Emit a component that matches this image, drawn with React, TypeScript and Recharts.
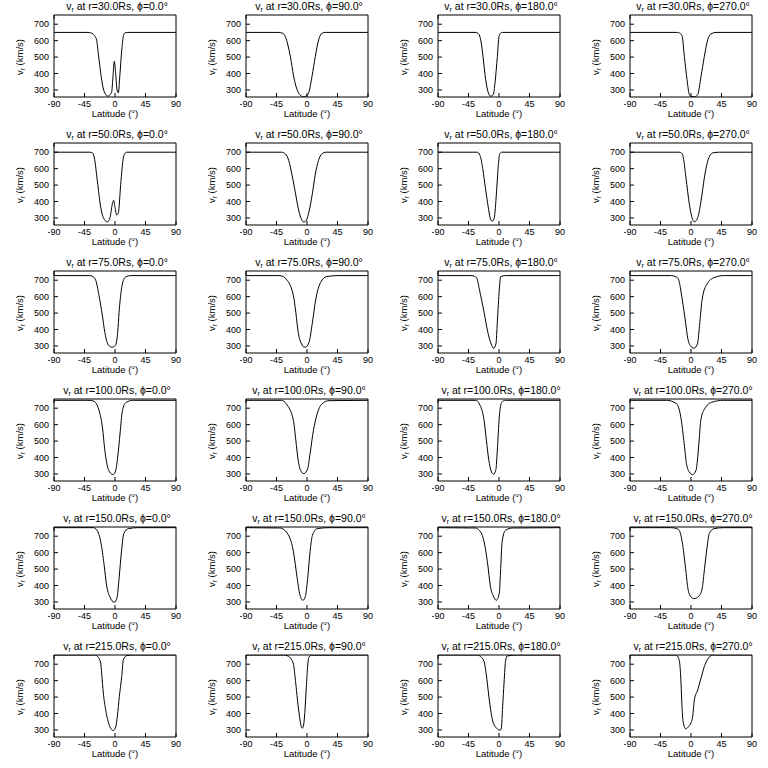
import { LineChart, Line, XAxis, YAxis } from "recharts";

type Pt = [number, number];

const radii = ["30.0", "50.0", "75.0", "100.0", "150.0", "215.0"];
const phis = ["0.0", "90.0", "180.0", "270.0"];
const latTicks = [-90, -45, 0, 45, 90];
const vTicks = [300, 400, 500, 600, 700];
const vDomain = [257, 756];

// r = 30 Rs
const r30_phi0: Pt[] = [[-90, 650], [-40, 650], [-35, 646], [-30, 630], [-27, 600], [-24, 500], [-21, 400], [-17.5, 312], [-14, 275], [-11.5, 262], [-8, 268], [-5, 285], [-3, 380], [-1, 474], [1, 400], [3, 300], [5, 282], [7, 380], [10, 544], [12.5, 630], [15, 648], [18, 650], [90, 650]];
const r30_phi90: Pt[] = [[-90, 650], [-42, 650], [-36, 645], [-32, 625], [-28, 570], [-24.6, 504], [-19.7, 383], [-14.7, 302], [-10, 268], [-5, 258], [0, 268], [2.5, 282], [7.4, 383], [12.3, 504], [17.2, 605], [22.2, 645], [27, 650], [90, 650]];
const r30_phi180: Pt[] = [[-90, 650], [-34, 650], [-30, 640], [-27, 605], [-23.6, 504], [-19.7, 363], [-15.7, 282], [-12.3, 262], [-8.3, 272], [-5.9, 343], [-2.4, 504], [0, 625], [2.5, 646], [5, 650], [90, 650]];
const r30_phi270: Pt[] = [[-90, 650], [-20, 650], [-15, 640], [-13, 625], [-9.8, 504], [-5.9, 363], [-2.4, 272], [1, 260], [5, 258], [9.9, 272], [14.8, 383], [19.7, 504], [24.6, 605], [29.5, 641], [36.9, 650], [90, 650]];

// r = 50 Rs
const r50_phi0: Pt[] = [[-90, 700], [-37, 700], [-33, 695], [-30.5, 666], [-26, 524], [-21, 363], [-17.2, 302], [-11.3, 276], [-7.4, 302], [-3.4, 395], [-2, 407], [0, 363], [2.5, 318], [5, 332], [8.4, 504], [12.3, 666], [15, 695], [17.2, 700], [90, 700]];
const r50_phi90: Pt[] = [[-90, 700], [-38, 700], [-32, 690], [-27, 650], [-22, 560], [-17, 450], [-13, 360], [-9, 300], [-5, 275], [-1, 285], [3, 340], [8, 450], [12, 560], [17, 650], [22, 690], [28, 700], [90, 700]];
const r50_phi180: Pt[] = [[-90, 700], [-32, 700], [-28, 680], [-24, 600], [-20, 480], [-16, 370], [-13, 300], [-10, 280], [-7, 300], [-5, 380], [-3, 500], [-1, 620], [1, 690], [4, 700], [90, 700]];
const r50_phi270: Pt[] = [[-90, 700], [-17.2, 700], [-13, 690], [-11.3, 666], [-7.4, 544], [-2.4, 383], [1.5, 302], [5, 276], [9.9, 302], [14.8, 403], [19.7, 544], [24.6, 645], [32, 696], [41.8, 700], [90, 700]];

// r = 75 Rs
const r75_phi0: Pt[] = [[-90, 728], [-37, 728], [-32, 720], [-29, 706], [-23.5, 605], [-18.6, 483], [-15, 383], [-11.6, 322], [-7, 295], [-4.5, 292], [0.4, 302], [4, 383], [6, 504], [9.5, 645], [13, 705], [16.5, 722], [23.5, 728], [90, 728]];
const r75_phi90: Pt[] = [[-90, 728], [-41, 728], [-35, 722], [-30.5, 706], [-20, 605], [-16.5, 504], [-13, 383], [-8, 312], [-5, 294], [-2.5, 292], [3, 322], [8, 443], [13, 585], [20, 686], [29, 722], [46, 728], [90, 728]];
const r75_phi180: Pt[] = [[-90, 728], [-40, 728], [-33, 715], [-29, 645], [-22, 504], [-16.5, 383], [-11.5, 312], [-8, 286], [-4.5, 312], [-2.5, 443], [0.5, 645], [2.5, 722], [9.5, 728], [90, 728]];
const r75_phi270: Pt[] = [[-90, 728], [-29, 728], [-22, 720], [-18.6, 706], [-13, 585], [-8, 443], [-4.6, 343], [-1, 302], [4.5, 286], [9.5, 312], [13, 443], [16.5, 585], [23.5, 676], [34, 716], [48, 728], [90, 728]];

// r = 100 Rs
const r100_phi0: Pt[] = [[-90, 748], [-40, 748], [-33, 745], [-29, 736], [-23.5, 686], [-18.6, 585], [-15, 443], [-11.6, 353], [-8, 312], [-3, 296], [0.4, 312], [4, 403], [7.4, 544], [11, 686], [16.5, 736], [27, 748], [90, 748]];
const r100_phi90: Pt[] = [[-90, 748], [-38, 748], [-30.5, 726], [-20, 625], [-16.5, 504], [-13, 383], [-9.5, 322], [-4.6, 302], [1, 332], [4.5, 423], [9.5, 565], [15, 666], [22, 726], [32.5, 746], [90, 748]];
const r100_phi180: Pt[] = [[-90, 748], [-34, 748], [-29, 726], [-22, 625], [-18.6, 504], [-15, 383], [-11.6, 318], [-8, 298], [-4.6, 326], [-2.5, 443], [0.4, 645], [4, 736], [9.5, 748], [90, 748]];
const r100_phi270: Pt[] = [[-90, 748], [-36, 748], [-22, 730], [-15, 645], [-10, 483], [-6.7, 363], [-2.5, 312], [2.5, 296], [7.4, 322], [11.6, 483], [14.4, 625], [20, 696], [30.5, 736], [48, 748], [90, 748]];

// r = 150 Rs
const r150_phi0: Pt[] = [[-90, 752], [-32, 752], [-26.6, 736], [-21, 666], [-16, 524], [-12.5, 403], [-7.7, 332], [-1, 298], [3, 326], [6, 443], [9.5, 605], [13, 716], [20, 746], [34, 752], [90, 752]];
const r150_phi90: Pt[] = [[-90, 752], [-40, 750], [-30.5, 726], [-20, 605], [-14.4, 443], [-11, 353], [-6, 310], [-2.5, 332], [1, 443], [4.5, 605], [8, 706], [15, 746], [32.5, 752], [90, 752]];
const r150_phi180: Pt[] = [[-90, 752], [-35, 750], [-29, 736], [-22, 666], [-16.5, 524], [-13, 403], [-8, 332], [-4, 310], [0.4, 353], [2.5, 504], [4.6, 666], [9.5, 736], [20, 750], [90, 752]];
const r150_phi270: Pt[] = [[-90, 752], [-30, 752], [-18.6, 742], [-13, 666], [-8, 504], [-4.6, 383], [-1, 335], [4.5, 320], [11.6, 335], [16.5, 383], [20, 504], [23.5, 625], [27, 716], [34, 746], [48, 752], [90, 752]];

// r = 215 Rs
const r215_phi0: Pt[] = [[-90, 756], [-30, 756], [-24.6, 742], [-21, 706], [-19.7, 645], [-17.2, 524], [-13.8, 423], [-10.8, 363], [-7.4, 318], [-2.4, 296], [1, 318], [3.5, 383], [6.4, 504], [9.9, 625], [12.3, 726], [17.2, 752], [27, 756], [90, 756]];
const r215_phi90: Pt[] = [[-90, 756], [-35, 756], [-28, 750], [-24, 735], [-20, 700], [-17, 600], [-14, 480], [-11, 380], [-9, 330], [-7, 310], [-5, 330], [-3, 420], [-1, 560], [1, 690], [3, 745], [8, 755], [90, 756]];
const r215_phi180: Pt[] = [[-90, 756], [-32, 756], [-27, 746], [-22, 716], [-19.7, 666], [-17.2, 585], [-14.7, 494], [-12.3, 423], [-9.8, 363], [-5.9, 322], [-2.4, 306], [1.5, 298], [3.5, 312], [5.4, 443], [7.4, 585], [9.9, 726], [12.3, 750], [27, 756], [90, 756]];
const r215_phi270: Pt[] = [[-90, 756], [-22, 756], [-18.2, 736], [-16.2, 686], [-14.7, 585], [-13.3, 443], [-11.3, 342], [-7.4, 306], [-3.4, 322], [0, 343], [2.5, 383], [5, 484], [9.9, 544], [14.8, 615], [19.7, 686], [24.6, 730], [32, 756], [90, 756]];

const profiles: Pt[][][] = [
  [r30_phi0, r30_phi90, r30_phi180, r30_phi270],
  [r50_phi0, r50_phi90, r50_phi180, r50_phi270],
  [r75_phi0, r75_phi90, r75_phi180, r75_phi270],
  [r100_phi0, r100_phi90, r100_phi180, r100_phi270],
  [r150_phi0, r150_phi90, r150_phi180, r150_phi270],
  [r215_phi0, r215_phi90, r215_phi180, r215_phi270],
];

const font = "'Liberation Sans', Arial, sans-serif";
const tickStyle = { fill: "#000", fontSize: 9, fontFamily: font };
const blank = () => "";

function Panel({ r, phi, pts }: { r: string; phi: string; pts: Pt[] }) {
  const data = pts.map(([lat, v]) => ({ lat, v }));
  return (
    <div style={{ position: "relative", width: 192, height: 128 }}>
      <LineChart
        width={192}
        height={128}
        data={data}
        margin={{ top: 10, right: 6, bottom: 11, left: 24 }}
      >
        <XAxis
          dataKey="lat"
          type="number"
          domain={[-90, 90]}
          ticks={latTicks}
          height={20}
          tickSize={-4}
          tickMargin={8}
          stroke="#000"
          tick={tickStyle}
          allowDataOverflow
        />
        <XAxis
          xAxisId="top"
          orientation="top"
          type="number"
          domain={[-90, 90]}
          ticks={latTicks}
          height={5}
          tickSize={-4}
          stroke="#000"
          tickFormatter={blank}
        />
        <YAxis
          type="number"
          domain={vDomain}
          ticks={vTicks}
          width={30}
          tickSize={-4}
          tickMargin={9}
          stroke="#000"
          tick={tickStyle}
          allowDataOverflow
        />
        <YAxis
          yAxisId="right"
          orientation="right"
          type="number"
          domain={vDomain}
          ticks={vTicks}
          width={10}
          tickSize={-4}
          stroke="#000"
          tickFormatter={blank}
        />
        <Line
          dataKey="v"
          type="monotone"
          stroke="#000"
          strokeWidth={1}
          dot={false}
          isAnimationActive={false}
        />
      </LineChart>
      <svg
        width={192}
        height={128}
        style={{ position: "absolute", left: 0, top: 0, pointerEvents: "none" }}
        fontFamily={font}
      >
        <text x={117} y={10} textAnchor="middle" fontSize={10.5} fill="#000">
          v<tspan fontSize={7} dy={2}>r</tspan>
          <tspan dy={-2}>{` at r=${r}Rs, \u03d5=${phi}\u00b0`}</tspan>
        </text>
        <text x={115} y={117} textAnchor="middle" fontSize={9.5} fill="#000">
          {"Latitude (\u00b0)"}
        </text>
        <text
          transform="translate(23,57) rotate(-90)"
          textAnchor="middle"
          fontSize={9.5}
          fill="#000"
        >
          v<tspan fontSize={6.5} dy={2}>r</tspan>
          <tspan dy={-2}> (km/s)</tspan>
        </text>
      </svg>
    </div>
  );
}

export default function App() {
  return (
    <div
      style={{
        position: "absolute",
        left: 0,
        top: 0,
        width: 768,
        height: 768,
        background: "#fff",
        display: "grid",
        gridTemplateColumns: "repeat(4, 192px)",
        gridTemplateRows: "repeat(6, 128px)",
      }}
    >
      {radii.map((r, i) =>
        phis.map((phi, j) => (
          <Panel key={`${i}-${j}`} r={r} phi={phi} pts={profiles[i][j]} />
        ))
      )}
    </div>
  );
}
